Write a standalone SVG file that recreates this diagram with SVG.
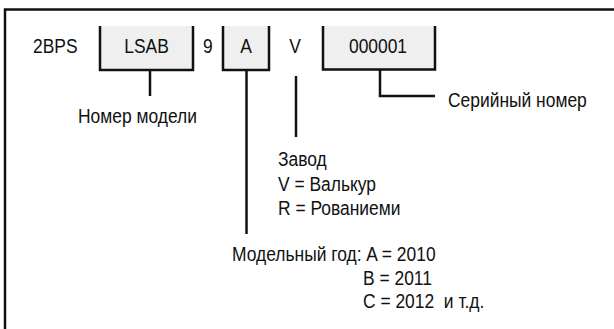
<svg xmlns="http://www.w3.org/2000/svg" width="614" height="329" viewBox="0 0 614 329">
<style>
text{font-family:"Liberation Sans",Arial,sans-serif;font-size:21px;fill:#111;white-space:pre}
.box{fill:#efefef;stroke:none}
.ln{fill:none;stroke:#111;stroke-width:2.5}
.m{text-anchor:middle}
</style>
<rect width="614" height="329" fill="#fff"/>
<path class="ln" d="M5,329 V9.5 H614"/>
<g id="n-2bps"><text transform="translate(33,53) scale(0.83,1)">2BPS</text></g>
<g id="n-lsab"><rect class="box" x="100" y="26" width="93" height="44"/><path class="ln" d="M100,26 V70 H193 V26"/><text class="m" transform="translate(146.5,53) scale(0.83,1)">LSAB</text></g>
<g id="n-9"><text transform="translate(203,53) scale(0.83,1)">9</text></g>
<g id="n-a"><rect class="box" x="223" y="26" width="46" height="44"/><path class="ln" d="M223,26 V70 H269 V26"/><text class="m" transform="translate(246,53) scale(0.83,1)">A</text></g>
<g id="n-v"><text class="m" transform="translate(295,53) scale(0.83,1)">V</text></g>
<g id="n-serial"><rect class="box" x="323" y="26" width="112" height="43"/><path class="ln" d="M323,26 V69.5 H435 V26"/><text class="m" transform="translate(378,53) scale(0.83,1)">000001</text></g>
<g id="connectors">
<path class="ln" d="M150,70 V96"/>
<path class="ln" d="M246.5,70 V234"/>
<path class="ln" d="M296,76 V137"/>
<path class="ln" d="M380,69.5 V96 H435"/>
</g>
<g id="l-model"><text transform="translate(78,123) scale(0.83,1)">Номер модели</text></g>
<g id="l-serial"><text transform="translate(448,107) scale(0.83,1)">Серийный номер</text></g>
<g id="l-plant"><text transform="translate(278,166) scale(0.83,1)">Завод</text><text transform="translate(278,191) scale(0.83,1)">V = Валькур</text><text transform="translate(278,215) scale(0.83,1)">R = Рованиеми</text></g>
<g id="l-year"><text transform="translate(232,261) scale(0.83,1)">Модельный год: A = 2010</text><text transform="translate(363,285) scale(0.83,1)">B = 2011</text><text transform="translate(363,308) scale(0.83,1)">C = 2012  и т.д.</text></g>
</svg>
